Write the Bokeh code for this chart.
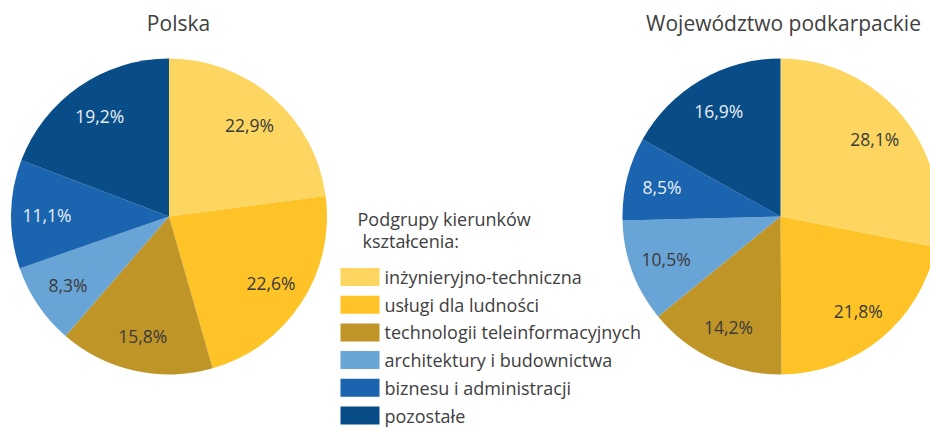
import math
from bokeh.plotting import figure
from bokeh.models import Range1d, ColumnDataSource
from bokeh.core.properties import value
from bokeh.embed import file_html
from bokeh.resources import INLINE

# ---- data ----
categories = [
    "inżynieryjno-techniczna",
    "usługi dla ludności",
    "technologii teleinformacyjnych",
    "architektury i budownictwa",
    "biznesu i administracji",
    "pozostałe",
]
polska = [22.9, 22.6, 15.8, 8.3, 11.1, 19.2]
podkarpackie = [28.1, 21.8, 14.2, 10.5, 8.5, 16.9]
titles = ["Polska", "Województwo podkarpackie"]
legend_title = ["Podgrupy kierunków", "kształcenia:"]

colors = ["#FCD660", "#FDC327", "#C09528", "#69A4D6", "#1B65B0", "#084D87"]
label_colors = ["#3a3a3a", "#3a3a3a", "#3a3a3a", "#3a3a3a", "#E8EEF5", "#E8EEF5"]

FONT = "Open Sans"
W, H = 930, 428

p = figure(width=W, height=H, output_backend="svg", toolbar_location=None,
           x_range=Range1d(0, W), y_range=Range1d(0, H), min_border=0)
p.axis.visible = False
p.grid.visible = False
p.outline_line_color = None
p.background_fill_color = "white"
p.border_fill_color = "white"


def py(page_y):
    return H - page_y


def px(page_x):
    return page_x


def draw_pie(vals, cx, cy, radius, label_r):
    total = sum(vals)
    starts, ends, lx, ly, labels = [], [], [], [], []
    cum = 0.0
    for v in vals:
        a0 = math.pi / 2 - 2 * math.pi * cum / total
        cum += v
        a1 = math.pi / 2 - 2 * math.pi * cum / total
        starts.append(a0)
        ends.append(a1)
        mid = (a0 + a1) / 2
        lx.append(cx + label_r * math.cos(mid))
        ly.append(cy + label_r * math.sin(mid))
        labels.append(f"{v:.1f}".replace(".", ",") + "%")
    src = ColumnDataSource(dict(start=starts, end=ends, color=colors,
                                lx=lx, ly=ly, label=labels, lcolor=label_colors))
    p.wedge(x=cx, y=cy, radius=radius, radius_units="screen",
            start_angle="start", end_angle="end", direction="clock",
            fill_color="color", line_color=None, source=src)
    p.text(x="lx", y="ly", text="label", text_color="lcolor",
           text_font=value(FONT), text_font_size="17.5px",
           text_align="center", text_baseline="middle", source=src)


R = 158
draw_pie(polska, px(168.5), py(216), R, 122)
draw_pie(podkarpackie, px(780), py(216), R, 122)

# titles
p.text(x=[px(178), px(783)], y=[py(22), py(22)], text=titles,
       text_color="#404040", text_font=value(FONT), text_font_size="21px",
       text_align="center", text_baseline="middle")

# legend
p.text(x=[px(357), px(362)], y=[py(218), py(240)], text=legend_title,
       text_color="#404040", text_font=value(FONT), text_font_size="18px",
       text_align="left", text_baseline="middle")

row_y = [py(276.5 + 27.7 * i) for i in range(len(categories))]
p.rect(x=[px(359.5)] * len(categories), y=row_y, width=39, height=18,
       width_units="screen", height_units="screen",
       fill_color=colors, line_color=None)
p.text(x=[px(384)] * len(categories), y=row_y, text=categories,
       text_color="#404040", text_font=value(FONT), text_font_size="18px",
       text_align="left", text_baseline="middle")

open("out.html", "w").write(file_html(p, INLINE))
